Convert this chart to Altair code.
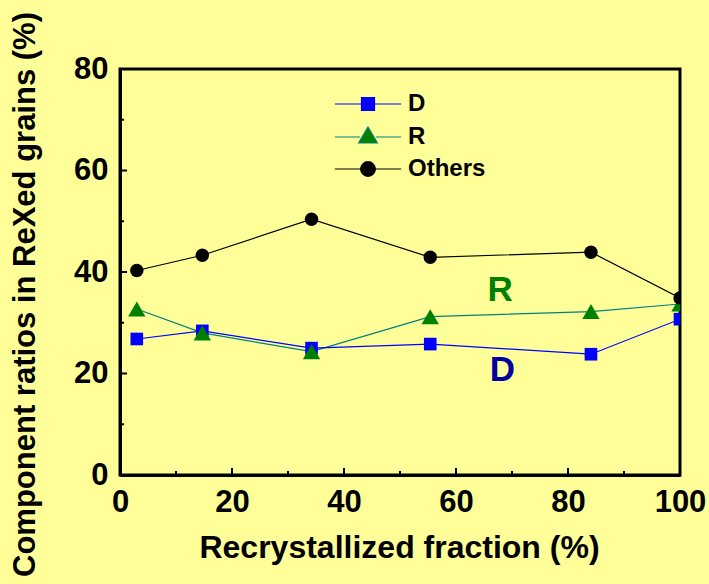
import altair as alt
import pandas as pd

# Measured component ratios versus recrystallized fraction
frac = [3.0, 14.7, 34.2, 55.4, 84.1, 100.0]
ratio_d = [26.8, 28.4, 25.0, 25.8, 23.8, 30.7]
ratio_r = [32.7, 28.0, 24.3, 31.2, 32.2, 33.7]
ratio_others = [40.3, 43.3, 50.4, 42.9, 43.9, 34.9]

series_names = ["D", "R", "Others"]

# Axis tick positions
x_major = [0, 20, 40, 60, 80, 100]
x_minor = [10, 30, 50, 70, 90]
y_major = [0, 20, 40, 60, 80]
y_minor = [10, 30, 50, 70]

# In-plot annotations
ann_text = ["R", "D"]
ann_x = [67.9, 68.3]
ann_y = [36.4, 20.6]
ann_color = ["#008000", "#0000A0"]

FONT = "Liberation Sans"
W, H = 560, 406
BG = "#FFFF99"

rows = []
for name, vals in zip(series_names, [ratio_d, ratio_r, ratio_others]):
    for xv, yv in zip(frac, vals):
        rows.append({"x": xv, "y": yv, "series": name})
df = pd.DataFrame(rows)

xscale = alt.Scale(domain=[0, 100], nice=False, zero=False)
yscale = alt.Scale(domain=[0, 80], nice=False, zero=False)

x_axis = alt.Axis(
    values=x_major, title="Recrystallized fraction (%)", format="d",
    domainWidth=3, domainColor="black", ticks=False, tickSize=0, grid=False,
    labelFont=FONT, labelFontSize=31, labelFontWeight="bold", labelColor="black",
    labelPadding=12, labelBaseline="top", labelFlush=False, labelOverlap=False,
    titleFont=FONT, titleFontSize=32, titleFontWeight="bold", titleColor="black",
    titleX=279, titleY=82, titleBaseline="alphabetic", titleAnchor="middle",
)
y_axis = alt.Axis(
    values=y_major, title="Component ratios in ReXed grains (%)", format="d",
    domainWidth=3, domainColor="black", ticks=False, tickSize=0, grid=False,
    labelFont=FONT, labelFontSize=31, labelFontWeight="bold", labelColor="black",
    labelPadding=12, labelFlush=False, labelOverlap=False,
    titleFont=FONT, titleFontSize=31, titleFontWeight="bold", titleColor="black",
    titleX=-86, titleY=225, titleBaseline="alphabetic", titleAngle=270,
    titleAnchor="middle",
)


def xq(field):
    return alt.X(f"{field}:Q", scale=xscale, axis=x_axis)


def yq(field):
    return alt.Y(f"{field}:Q", scale=yscale, axis=y_axis)


line_colors = {"D": "#0000FF", "R": "#008080", "Others": "#000000"}
marker_colors = {"D": "#0000FF", "R": "#008000", "Others": "#000000"}
marker_shapes = {"D": "square", "R": "triangle-up", "Others": "circle"}
marker_sizes = {"D": 160, "R": 300, "Others": 180}

layers = []
for name in ["Others", "R", "D"]:
    layers.append(
        alt.Chart(df).transform_filter(alt.datum.series == name)
        .mark_line(color=line_colors[name], strokeWidth=1.2, clip=True)
        .encode(x=xq("x"), y=yq("y"))
    )
for name in ["D", "R", "Others"]:
    layers.append(
        alt.Chart(df).transform_filter(alt.datum.series == name)
        .mark_point(filled=True, opacity=1, shape=marker_shapes[name],
                    size=marker_sizes[name], color=marker_colors[name],
                    clip=True)
        .encode(x=xq("x"), y=yq("y"))
    )

# Inward ticks on the bottom and left axes
for vals, length in [(x_major, 7), (x_minor, 4)]:
    layers.append(
        alt.Chart(pd.DataFrame({"v": vals}))
        .mark_rule(color="black", strokeWidth=2)
        .encode(x=xq("v"), y=alt.value(H), y2=alt.value(H - length))
    )
for vals, length in [(y_major, 7), (y_minor, 4)]:
    layers.append(
        alt.Chart(pd.DataFrame({"v": vals}))
        .mark_rule(color="black", strokeWidth=2)
        .encode(y=yq("v"), x=alt.value(0), x2=alt.value(length))
    )

# Text annotations
ann_df = pd.DataFrame({"t": ann_text, "x": ann_x, "y": ann_y, "c": ann_color})
layers.append(
    alt.Chart(ann_df)
    .mark_text(font=FONT, fontSize=35, fontWeight="bold", baseline="middle",
               align="center")
    .encode(x=xq("x"), y=yq("y"), text="t:N",
            color=alt.Color("c:N", scale=None))
)

# Legend: line-with-marker symbols built as custom paths
legend_paths = [
    "M-5.1,0H-1M1,0H5.1M-1,-1H1V1H-1Z",
    "M-5.1,0H-1.2M1.2,0H5.1M0,-1.54L1.44,0.92H-1.44Z",
    "M-5.1,0H-1.13M1.13,0H5.1M-1.13,0A1.13,1.13,0,1,0,1.13,0A1.13,1.13,0,1,0,-1.13,0Z",
]
legend_def = alt.Legend(
    title=None, orient="none", legendX=236, legendY=23, padding=0,
    symbolSize=169, symbolStrokeWidth=1.2, symbolOpacity=1,
    labelFont=FONT, labelFontSize=24, labelFontWeight="bold",
    labelColor="black", labelOffset=28, rowPadding=8,
)
layers.append(
    alt.Chart(df).transform_filter("false")
    .mark_point(filled=True, opacity=1)
    .encode(
        x=xq("x"), y=yq("y"),
        shape=alt.Shape("series:N", scale=alt.Scale(domain=series_names, range=legend_paths),
                        legend=legend_def),
        fill=alt.Fill("series:N", scale=alt.Scale(domain=series_names,
                      range=[marker_colors[s] for s in series_names]), legend=legend_def),
        stroke=alt.Stroke("series:N", scale=alt.Scale(domain=series_names,
                          range=[line_colors[s] for s in series_names]), legend=legend_def),
    )
)

chart = (
    alt.layer(*layers)
    .properties(
        width=W, height=H, background=BG,
        autosize=alt.AutoSizeParams(type="none"),
        padding={"left": 120, "top": 69, "right": 29, "bottom": 109},
    )
    .configure_view(stroke="black", strokeWidth=3, fill=BG)
)

chart.save("out.html", embed_options={"renderer": "svg", "actions": False})
